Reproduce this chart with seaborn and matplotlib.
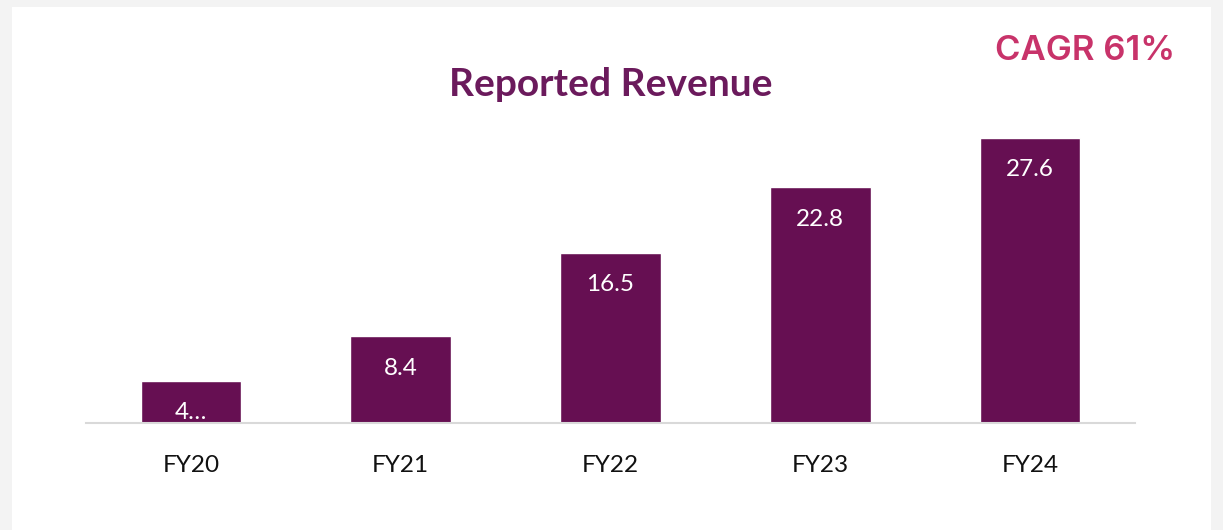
import matplotlib
matplotlib.use("Agg")
import matplotlib.pyplot as plt
from matplotlib.patches import Rectangle
import seaborn as sns
import pandas as pd

categories = ["FY20", "FY21", "FY22", "FY23", "FY24"]
values = [4.1, 8.4, 16.5, 22.8, 27.6]
value_labels = ["4…", "8.4", "16.5", "22.8", "27.6"]
title = "Reported Revenue"
badge = "CAGR 61%"

bar_color = "#660f52"
title_color = "#6b1a5c"
badge_color = "#c8336a"

sns.set_theme(style="white")
plt.rcParams['font.family'] = ['Lato', 'DejaVu Sans']

W, H = 1223, 530
fig = plt.figure(figsize=(W / 100, H / 100), dpi=100, facecolor="#f3f3f3")
# white card
fig.patches.append(Rectangle((12 / W, 0), (1211 - 12) / W, (H - 7) / H,
                             transform=fig.transFigure, facecolor="white",
                             edgecolor="none", zorder=-10))

ax = fig.add_axes([86 / W, 107 / H, (1135 - 86) / W, 310 / H])
ax.set_zorder(2)
ax.set_facecolor("none")
df = pd.DataFrame({"cat": categories, "val": values})
sns.barplot(data=df, x="cat", y="val", color=bar_color, saturation=1,
            width=0.48, ax=ax)
ax.set_xlim(-0.5, 4.5)
ax.set_ylim(0, 30)
ax.set_xlabel("")
ax.set_ylabel("")
ax.set_yticks([])
for s in ["top", "right", "left"]:
    ax.spines[s].set_visible(False)
ax.spines["bottom"].set_color("#d9d9d9")
ax.spines["bottom"].set_linewidth(1.5)
ax.tick_params(axis="x", length=0, pad=23, labelsize=17.5, labelcolor="#111111")

for i, (v, lab) in enumerate(zip(values, value_labels)):
    ax.annotate(lab, (i, v), xytext=(0, -32), textcoords="offset pixels",
                ha="center", va="center", color="white", fontsize=17.5)

fig.text(611 / W, 1 - 85 / H, title, ha="center", va="center",
         fontsize=28, fontweight="bold", color=title_color, zorder=3)
fig.text(1085 / W, 1 - 51 / H, badge, ha="center", va="center",
         fontsize=25, fontweight="semibold", color=badge_color,
         family=["Inter", "DejaVu Sans"], zorder=3)

fig.savefig("out.png", dpi=100, facecolor=fig.get_facecolor())
